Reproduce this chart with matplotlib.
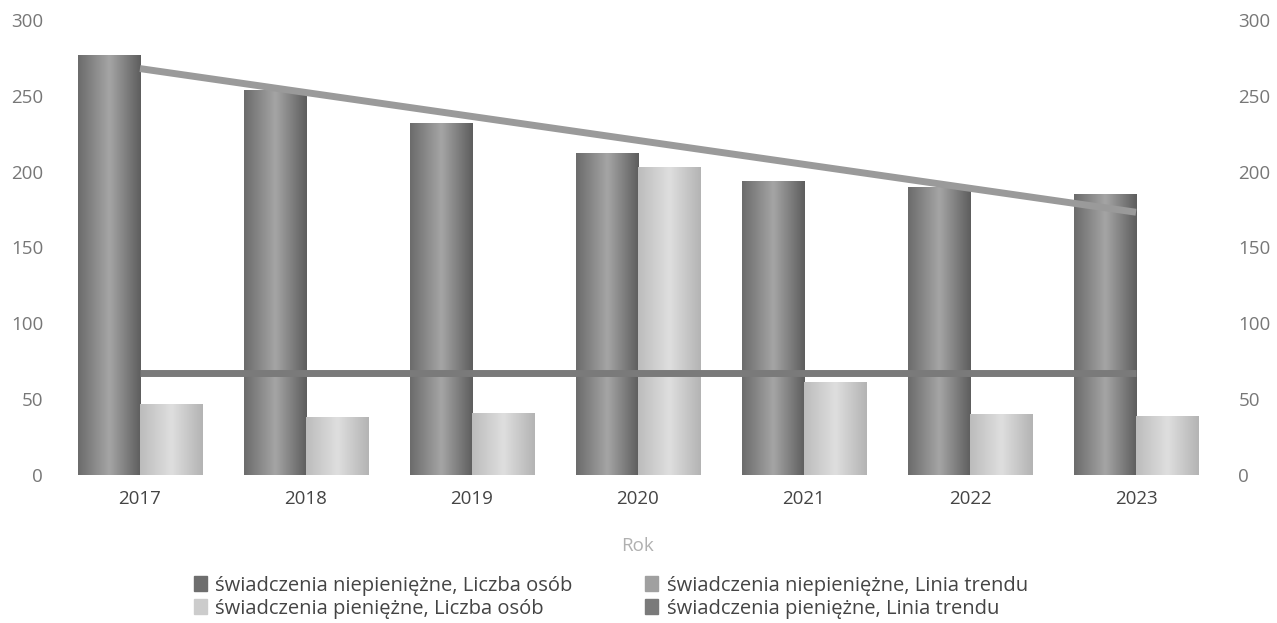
import matplotlib.pyplot as plt
import numpy as np
from matplotlib.patches import Patch
from matplotlib.colors import LinearSegmentedColormap

plt.rcParams['font.family'] = ['Open Sans', 'DejaVu Sans']

years = ['2017', '2018', '2019', '2020', '2021', '2022', '2023']
niepieniezne = [277, 254, 232, 212, 194, 190, 185]
pieniezne = [47, 38, 41, 203, 61, 40, 39]

labelBars = ['świadczenia niepieniężne, Liczba osób', 'świadczenia pieniężne, Liczba osób']
labelTrend = ['świadczenia niepieniężne, Linia trendu', 'świadczenia pieniężne, Linia trendu']


def shadeBars(ax, bars, cmap):
    # cylinder-ish look: horizontal gradient clipped to each bar
    grad = np.concatenate([np.linspace(0.2, 1, 30), np.linspace(1, 0.0, 30)]).reshape(1, -1)
    for b in bars:
        x, y = b.get_x(), b.get_y()
        w, h = b.get_width(), b.get_height()
        im = ax.imshow(grad, extent=[x, x + w, y, y + h], cmap=cmap, aspect='auto',
                       zorder=b.get_zorder(), interpolation='bicubic')
        im.set_clip_path(b)


fig = plt.figure(figsize=(12.77, 6.23), dpi=100)
ax = fig.add_axes([0.0446, 0.2376, 0.91, 0.7304])

x = np.arange(len(years))
w = 0.375
darkBars = ax.bar(x - w / 2, niepieniezne, width=w, color='#7c7c7c', zorder=2)
lightBars = ax.bar(x + w / 2, pieniezne, width=w, color='#c6c6c6', zorder=2)

shadeBars(ax, darkBars, LinearSegmentedColormap.from_list('d', ['#5e5e5e', '#a4a4a4']))
shadeBars(ax, lightBars, LinearSegmentedColormap.from_list('l', ['#b4b4b4', '#dedede']))

# trend lines from linear fit
for vals, col in [(niepieniezne, '#9a9a9a'), (pieniezne, '#7a7a7a')]:
    k, b = np.polyfit(x, vals, 1)
    ax.plot(x, k * x + b, color=col, lw=5, zorder=3, solid_capstyle='butt')

ax.set_xlim(-0.5, 6.5)
ax.set_ylim(0, 300)
ax.set_yticks(range(0, 301, 50))
ax.set_xticks(x)
ax.set_xticklabels(years)
for s in ax.spines.values():
    s.set_visible(False)
ax.tick_params(axis='y', length=0, pad=10, labelsize=13.5, labelcolor='#777777')
ax.tick_params(axis='x', length=0, pad=11, labelsize=13.5, labelcolor='#444444')
ax.set_xlabel('Rok', fontsize=13.5, color='#b0b0b0', labelpad=21)

ax2 = ax.twinx()
ax2.set_ylim(0, 300)
ax2.set_yticks(range(0, 301, 50))
for s in ax2.spines.values():
    s.set_visible(False)
ax2.tick_params(axis='y', length=0, pad=14, labelsize=13.5, labelcolor='#777777')

handles = [Patch(color='#6e6e6e'), Patch(color='#cccccc'),
           Patch(color='#a0a0a0'), Patch(color='#7a7a7a')]
fig.legend(handles, labelBars + labelTrend, loc='lower left', bbox_to_anchor=(0.138, -0.022),
           ncol=2, frameon=False, fontsize=14.5, handlelength=0.65, handleheight=0.7,
           handletextpad=0.4, columnspacing=3.6, labelspacing=0.15, labelcolor='#444444')

plt.savefig('out.png')
